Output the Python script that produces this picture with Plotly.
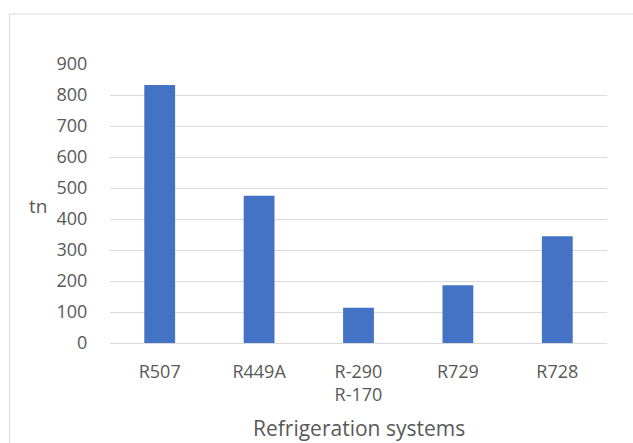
import plotly.graph_objects as go

# Refrigerant charge by system type
systems = ["R507", "R449A", "R-290<br>R-170", "R729", "R728"]
tonnes = [832, 475, 114, 186, 344]
y_ticks = [0, 100, 200, 300, 400, 500, 600, 700, 800, 900]

BAR_COLOR = "#4472C4"
TEXT_COLOR = "#595959"
GRID_COLOR = "#D9D9D9"
FONT = "Open Sans"

W, H = 633, 443
M_L, M_R, M_T, M_B = 110, 26, 64, 100
plot_w = W - M_L - M_R
plot_h = H - M_T - M_B


def px_to_paper_x(px):
    return (px - M_L) / plot_w


def px_to_paper_y(py):
    return (H - M_B - py) / plot_h


fig = go.Figure(
    go.Bar(
        x=systems,
        y=tonnes,
        marker=dict(color=BAR_COLOR, line=dict(width=0)),
        width=0.31,
    )
)

fig.update_layout(
    width=W,
    height=H,
    margin=dict(l=M_L, r=M_R, t=M_T, b=M_B),
    paper_bgcolor="white",
    plot_bgcolor="white",
    showlegend=False,
    font=dict(family=FONT, size=18, color=TEXT_COLOR),
    shapes=[
        # light outline framing the chart area
        dict(
            type="rect",
            xref="paper",
            yref="paper",
            x0=px_to_paper_x(9.5),
            x1=px_to_paper_x(W + 10),
            y0=px_to_paper_y(H + 10),
            y1=px_to_paper_y(14),
            line=dict(color=GRID_COLOR, width=1),
            fillcolor="rgba(0,0,0,0)",
            layer="below",
        )
    ],
    annotations=[
        dict(
            text="tn",
            xref="paper",
            yref="paper",
            x=px_to_paper_x(38),
            y=px_to_paper_y(206),
            showarrow=False,
            xanchor="center",
            yanchor="middle",
            font=dict(size=19, color=TEXT_COLOR),
        ),
        dict(
            text="Refrigeration systems",
            xref="paper",
            yref="paper",
            x=0.5,
            y=px_to_paper_y(428),
            showarrow=False,
            xanchor="center",
            yanchor="middle",
            font=dict(size=21, color=TEXT_COLOR),
        ),
    ],
)

fig.update_xaxes(
    showgrid=False,
    showline=False,
    ticks="outside",
    ticklen=12,
    tickcolor="rgba(0,0,0,0)",
    tickfont=dict(size=18, color=TEXT_COLOR),
)

fig.update_yaxes(
    range=[0, 900],
    tickvals=y_ticks,
    showgrid=True,
    gridcolor=GRID_COLOR,
    gridwidth=1,
    zeroline=True,
    zerolinecolor=GRID_COLOR,
    zerolinewidth=1,
    showline=False,
    ticks="outside",
    ticklen=18,
    tickcolor="rgba(0,0,0,0)",
    tickfont=dict(size=18, color=TEXT_COLOR),
)

fig.write_html("out.html")
